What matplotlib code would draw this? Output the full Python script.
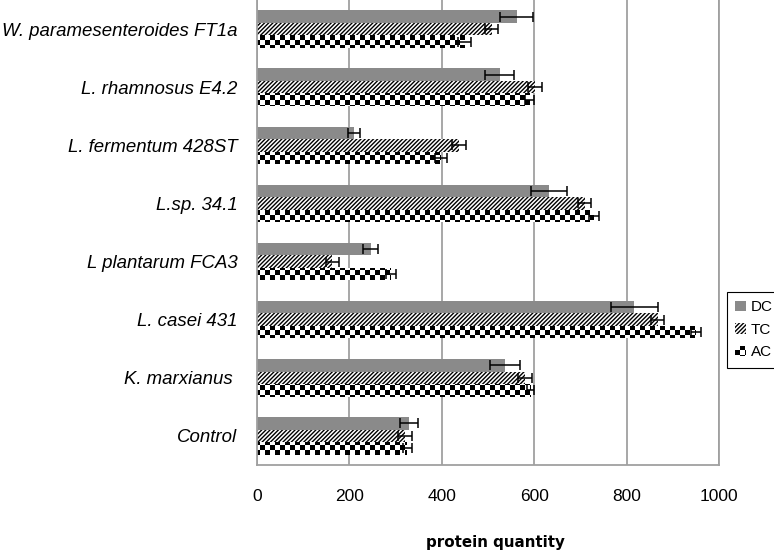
import numpy as np
import matplotlib
matplotlib.use('Agg')
import matplotlib.pyplot as plt
import matplotlib.hatch as mhatch
from matplotlib.path import Path
from matplotlib.patches import Patch

# ---------------- data ----------------
categories = ["W. paramesenteroides FT1a", "L. rhamnosus E4.2", "L. fermentum 428ST",
              "L.sp. 34.1", "L plantarum FCA3", "L. casei 431", "K. marxianus ", "Control"]
series_names = ["DC", "TC", "AC"]
dc = [562, 525, 210, 632, 246, 817, 537, 329]
dc_err = [35, 32, 13, 39, 16, 51, 33, 20]
tc = [508, 601, 437, 709, 163, 867, 580, 320]
tc_err = [14, 15, 15, 14, 14, 15, 15, 15]
ac = [450, 590, 398, 730, 290, 950, 592, 325]
ac_err = [14, 10, 13, 11, 10, 10, 8, 10]
xticks = [0, 200, 400, 600, 800, 1000]

# ------------- checkerboard hatch (mapped to '*') -------------
HATCH_LW = 1.0  # points
plt.rcParams['hatch.linewidth'] = HATCH_LW


class CheckerHatch(mhatch.HatchPatternBase):
    def __init__(self, hatch, density):
        self.n = 20 if hatch.count('*') > 0 else 0
        self.num_vertices = (self.n * self.n // 2) * 5

    def set_vertices_and_codes(self, vertices, codes):
        n = self.n
        c = 1.0 / n
        inset = (HATCH_LW * 100 / 72) / 2 / 100.0
        k = 0
        sq = np.array([[0, 0], [1, 0], [1, 1], [0, 1], [0, 0]], float)
        for i in range(n):
            for j in range(n):
                if (i + j) % 2 == 0:
                    x0, y0 = i * c + inset, j * c + inset
                    s = c - 2 * inset
                    vertices[k:k + 5] = sq * s + [x0, y0]
                    codes[k:k + 5] = [Path.MOVETO, Path.LINETO, Path.LINETO,
                                      Path.LINETO, Path.CLOSEPOLY]
                    k += 5


mhatch._hatch_types = [t for t in mhatch._hatch_types if t is not mhatch.Stars] + [CheckerHatch]

# ---------------- figure ----------------
fig = plt.figure(figsize=(7.74, 5.54), dpi=100)
ax = fig.add_axes([257 / 774, (554 - 465) / 554, (719 - 257) / 774, 465 / 554])

y = np.arange(len(categories))
h = 0.215
TC_HATCH = '////////'
styles = [dict(color='#8a8a8a', edgecolor='#8a8a8a', linewidth=0),
          dict(color='white', edgecolor='black', linewidth=0, hatch=TC_HATCH),
          dict(color='white', edgecolor='black', linewidth=0, hatch='*')]
vals = [dc, tc, ac]
errs = [dc_err, tc_err, ac_err]
offsets = [-h, 0, h]
for v, e, off, st in zip(vals, errs, offsets, styles):
    ax.barh(y + off, v, height=h, zorder=2, **st)
    ax.errorbar(v, y + off, xerr=e, fmt='none', ecolor='black', elinewidth=1.1,
                capsize=3.5, capthick=1.1, zorder=3)

ax.set_ylim(len(categories) - 0.5, -0.5)
ax.set_xlim(0, 1000)
ax.set_xticks(xticks)
ax.set_xticklabels([str(t) for t in xticks], fontsize=12.5, family='Liberation Sans')
ax.set_yticks(y)
ax.set_yticklabels(categories, fontsize=13.4, family='Liberation Sans', style='italic')
ax.tick_params(axis='y', length=0, pad=14)
ax.tick_params(axis='x', length=0, pad=17)
ax.grid(axis='x', color='#a0a0a0', linewidth=1.3, zorder=0)
ax.set_axisbelow(True)
for s in ['left', 'bottom', 'right']:
    ax.spines[s].set_color('#a0a0a0')
    ax.spines[s].set_linewidth(1.3)
ax.spines['top'].set_visible(False)

ax.set_xlabel('protein quantity', fontsize=10.9, fontweight='bold', family='DejaVu Sans')
ax.xaxis.set_label_coords((495 - 257) / 462, -(542 - 465) / 465 + 0.0, transform=ax.transAxes)
ax.xaxis.label.set_va('center')

handles = [Patch(facecolor='#8a8a8a', edgecolor='#8a8a8a', linewidth=0),
           Patch(facecolor='white', edgecolor='black', linewidth=0, hatch=TC_HATCH),
           Patch(facecolor='white', edgecolor='black', linewidth=0, hatch='*')]
leg = fig.legend(handles, series_names, loc='upper left', bbox_to_anchor=(727 / 774, 1 - 292 / 554),
                 frameon=True, fancybox=False, edgecolor='black', framealpha=1,
                 borderaxespad=0, handlelength=0.7, handleheight=0.7, handletextpad=0.3,
                 labelspacing=0.55, borderpad=0.55, prop={'family': 'Liberation Sans', 'size': 11})
leg.get_frame().set_linewidth(0.8)

fig.savefig('out.png', dpi=100)
